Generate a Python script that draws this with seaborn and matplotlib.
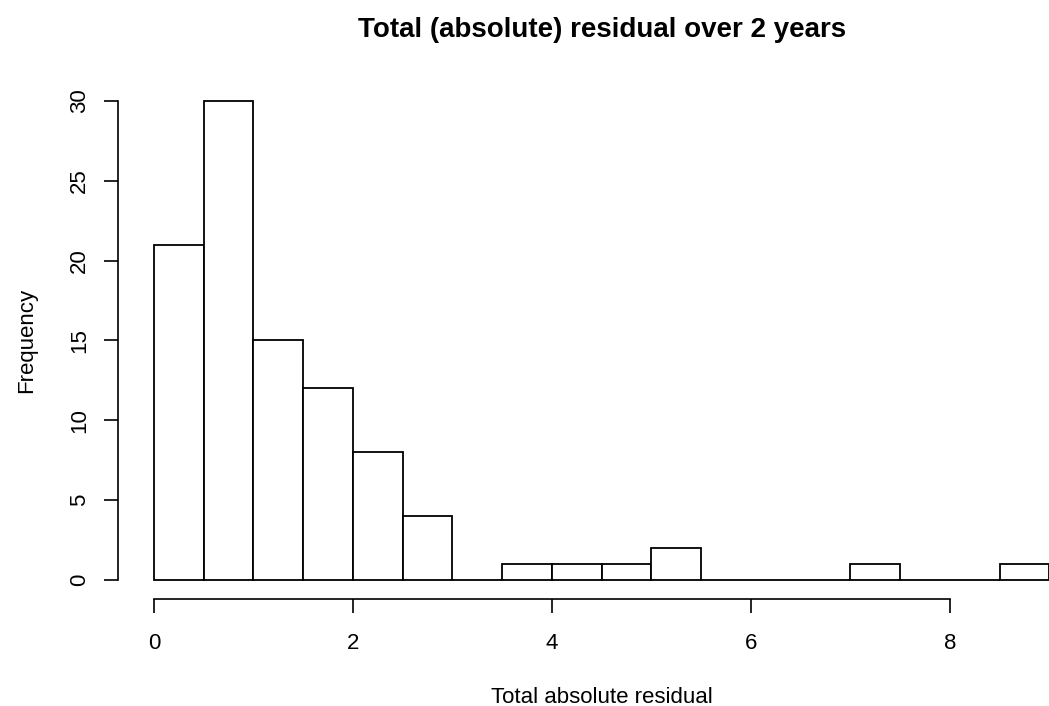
import numpy as np
import matplotlib
matplotlib.use("Agg")
import matplotlib.pyplot as plt
import seaborn as sns

# Histogram: bins of width 0.5 from 0 to 9
bin_edges = [0.0, 0.5, 1.0, 1.5, 2.0, 2.5, 3.0, 3.5, 4.0, 4.5, 5.0,
             5.5, 6.0, 6.5, 7.0, 7.5, 8.0, 8.5, 9.0]
counts = [21, 30, 15, 12, 8, 4, 0, 1, 1, 1, 2, 0, 0, 0, 1, 0, 0, 1]
x_ticks = [0, 2, 4, 6, 8]
y_ticks = [0, 5, 10, 15, 20, 25, 30]

sns.set_style("white")
plt.rcParams['font.family'] = ['Liberation Sans', 'DejaVu Sans']
plt.rcParams['text.color'] = 'black'
plt.rcParams['axes.labelcolor'] = 'black'

fig = plt.figure(figsize=(10.49, 7.06), dpi=100)
# R-style plot region; the right side runs past the edge of the figure (cropped)
ax = fig.add_axes([0.1125, 0.1513, 0.922, 0.7329])

bin_left = np.array(bin_edges[:-1])
sns.histplot(x=bin_left, weights=counts, bins=bin_edges, ax=ax,
             color="white", edgecolor="black", linewidth=1.3, alpha=1)

ax.set_xlim(-0.36, 9.36)
ax.set_ylim(-1.2, 31.2)

for s in ["top", "right"]:
    ax.spines[s].set_visible(False)
ax.spines["left"].set_bounds(0, 30)
ax.spines["bottom"].set_bounds(0, 8)
for s in ["left", "bottom"]:
    ax.spines[s].set_linewidth(1.2)
    ax.spines[s].set_color("black")

ax.set_xticks(x_ticks)
ax.set_yticks(y_ticks)
ax.tick_params(axis="both", bottom=True, left=True, direction="out",
               length=10, width=1.2, labelsize=16, colors="black")
ax.tick_params(axis="x", pad=14)
ax.tick_params(axis="y", pad=10)
plt.setp(ax.get_yticklabels(), rotation=90, va="center")

ax.set_title("Total (absolute) residual over 2 years", fontsize=20,
             fontweight="bold", pad=32, color="black")
ax.set_xlabel("Total absolute residual", fontsize=16, labelpad=24)
ax.set_ylabel("Frequency", fontsize=16, labelpad=23)
ax.grid(False)

fig.savefig("out.png", dpi=100)
